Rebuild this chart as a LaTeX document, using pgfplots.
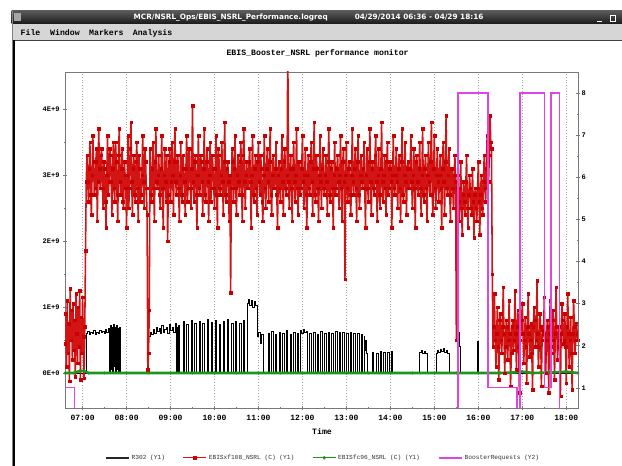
\documentclass[border=0pt]{standalone}
\usepackage{pgfplots}
\pgfplotsset{compat=1.18}
\usepackage{fontspec}
\setmainfont{Liberation Mono}
\newfontfamily\sansb{DejaVu Sans}
\definecolor{rline}{RGB}{210,20,20}
\definecolor{rmark}{RGB}{200,0,0}
\definecolor{gline}{RGB}{30,150,30}
\definecolor{mline}{RGB}{222,70,228}
\definecolor{axgray}{RGB}{120,120,120}
\definecolor{menugray}{RGB}{214,214,214}
\begin{document}
\begin{tikzpicture}
\useasboundingbox (0pt,0pt) rectangle (622pt,466pt);
\fill[white] (0pt,0pt) rectangle (622pt,466pt);
% window chrome
\shade[top color=black!65, bottom color=black!90] (11.5pt,442pt) rectangle (622pt,455pt);
\fill[black!35] (14pt,444.5pt) rectangle (21pt,452.5pt);
\node[anchor=west, text=white, font=\sansb\bfseries\fontsize{7.3}{8}\selectfont, inner sep=0pt] at (133.5pt,448.5pt) {MCR/NSRL\_Ops/EBIS\_NSRL\_Performance.logreq};
\node[anchor=west, text=white, font=\sansb\bfseries\fontsize{7.3}{8}\selectfont, inner sep=0pt] at (354.6pt,448.5pt) {04/29/2014 06:36 - 04/29 18:16};
\draw[white, line width=0.8pt] (597pt,445pt) -- (602pt,445pt);
\draw[white, line width=0.6pt] (610pt,445pt) rectangle (615.5pt,451pt);
\fill[menugray] (11.5pt,426pt) rectangle (622pt,442pt);
\fill[black!75] (11.5pt,424.5pt) rectangle (622pt,426pt);
\fill[black!50] (11.5pt,0pt) rectangle (13.2pt,455pt);
\fill[black] (13.2pt,0pt) rectangle (15.2pt,426pt);
\foreach \w/\x in {File/20.5, Window/50, Markers/89, Analysis/132.7}{
  \node[anchor=west, inner sep=0pt, font=\bfseries\fontsize{8.2}{9}\selectfont] at (\x pt,433pt) {\w};
}
\node[font=\bfseries\fontsize{8.2}{9}\selectfont, inner sep=0pt] at (317.6pt,413pt) {EBIS\_Booster\_NSRL performance monitor};
\node[font=\bfseries\fontsize{8.2}{9}\selectfont, inner sep=0pt] at (322pt,34.3pt) {Time};

\begin{axis}[
  at={(65pt,58pt)}, anchor=south west,
  scale only axis, width=513pt, height=336pt,
  xmin=36, xmax=736, ymin=-0.53, ymax=4.56,
  xtick={60,120,180,240,300,360,420,480,540,600,660,720},
  xticklabels={07:00,08:00,09:00,10:00,11:00,12:00,13:00,14:00,15:00,16:00,17:00,18:00},
  minor x tick num=1,
  ytick={0,1,2,3,4}, yticklabels={0E+0,1E+9,2E+9,3E+9,4E+9},
  minor y tick num=1,
  xtick pos=bottom, ytick pos=left,
  tick align=center,
  major tick length=4pt, minor tick length=2.5pt,
  xmajorgrids,
  grid style={dash pattern=on 0.8pt off 2pt, black!35, line width=0.6pt},
  axis line style={axgray, line width=0.7pt},
  tick style={axgray, line width=0.5pt},
  xticklabel style={font=\bfseries\fontsize{8}{9}\selectfont, yshift=-1.5pt},
  yticklabel style={font=\bfseries\fontsize{7}{8}\selectfont},
  legend columns=4,
  legend cell align=left,
  legend style={at={(0.503,-0.148)}, anchor=center, draw=none, fill=none,
    font=\fontsize{6.2}{7}\selectfont, text=black!80,
    /tikz/every even column/.append style={column sep=16pt}},
  legend image code/.code={\draw[mark repeat=2,mark phase=2,#1] plot coordinates {(0pt,0pt) (11.5pt,0pt) (23pt,0pt)};},
]
\addlegendimage{color=black!85, line width=1.7pt}
\addlegendentry{R302 (Y1)}
\addlegendimage{color=rline, line width=0.7pt, mark=square*, mark size=1.3pt, mark options={draw=rmark, fill=rmark}}
\addlegendentry{EBISxf108\_NSRL (C) (Y1)}
\addlegendimage{color=gline, line width=0.7pt, mark=*, mark size=1.4pt, mark options={draw=gline, fill=gline}}
\addlegendentry{EBISfc96\_NSRL (C) (Y1)}
\addlegendimage{color=mline, line width=1.8pt}
\addlegendentry{BoosterRequests (Y2)}
% R302
\addplot[const plot, black, line width=0.6pt, forget plot] coordinates {
(36,0)(65,0.6)(67,0.63)(69,0.58)(71,0.62)(73,0.6)(75,0.64)(77,0.59)(79,0.62)(81,0.6)(83,0.65)(85,0.61)(87,0.63)(89,0.6)(91,0.66)(93,0.62)(95,0.68)
(97,0.0)(98,0.72)(99,0.05)(100,0.7)(101,0.0)(102,0.74)(103,0.1)(104,0.7)(105,0.0)(106,0.73)(107,0.05)(108,0.68)(109,0.0)(110,0.7)(111,0)
(149,0.3)(150,0.55)(152,0.62)(154,0.58)(156,0.66)(158,0.6)(160,0.7)(162,0.63)(164,0.68)(166,0.6)(168,0.72)(170,0.62)(172,0.66)(174,0.7)(176,0.6)(178,0.74)(180,0.65)(182,0.7)(184,0.62)(186,0.76)(188,0.0)(189,0.7)(190,0)(191,0.72)(192,0)
(197,0.78)(199,0)(202,0.74)(204,0)(208,0.8)(210,0)(213,0.76)(215,0)(219,0.79)(221,0)(224,0.75)(226,0)(230,0.81)(232,0)(235,0.77)(237,0)(241,0.8)(243,0)(246,0.74)(248,0)(252,0.78)(254,0)(257,0.82)(259,0)(263,0.76)(265,0)(268,0.79)(270,0)(274,0.75)(276,0)(279,0.8)(281,0)
(285,1.05)(286,1.12)(288,1.02)(290,1.1)(292,1.0)(294,1.08)(296,1.03)(298,0.55)(300,0.62)(302,0.45)(304,0.58)(306,0.4)(307,0)
(313,0.6)(315,0)(318,0.63)(320,0)(323,0.58)(325,0)(328,0.62)(330,0)(333,0.6)(335,0)(338,0.64)(340,0)(343,0.59)(345,0)(348,0.62)(350,0)(353,0.6)(355,0)
(357,0.64)(359,0.6)(361,0.66)(363,0.61)(365,0.63)(367,0)(370,0.6)(372,0)(375,0.62)(377,0)(380,0.59)(382,0)(385,0.63)(387,0)(390,0.6)(392,0)(395,0.62)(397,0)
(400,0.6)(402,0)(405,0.63)(407,0)(410,0.61)(412,0)(415,0.62)(417,0)(420,0.6)(422,0)(425,0.61)(427,0)(430,0.6)(432,0)(435,0.6)(437,0)(440,0.58)(442,0)
(444,0.56)(445,0.35)(446,0.5)(447,0.3)(448,0)
(455,0.32)(457,0)(461,0.3)(463,0)(466,0.33)(468,0)(471,0.31)(473,0)(476,0.32)(478,0)(481,0.33)(483,0)
(519,0.26)(520,0.31)(522,0.34)(524,0.3)(526,0.33)(528,0.3)(530,0.27)(531,0)
(542,0.3)(544,0.35)(546,0.32)(548,0.36)(550,0.33)(552,0.37)(554,0.32)(556,0.35)(558,0.3)(560,0)
(573,0.62)(574,0.4)(575,0)(599,0.48)(600,0)(736,0)
};
% EBISxf108_NSRL
\addplot[color=rline, line width=1.55pt, mark=square*, mark size=1.3pt, mark options={draw=rmark, fill=rmark, line width=0.2pt}, forget plot] coordinates {
(36,0.45)(37,0.9)(38,0.1)(39,1.1)(40,0.3)(41,0.75)(42,-0.12)(43,1.28)(44,0.5)(45,0.95)(46,0.2)(47,1.05)(48,0.35)(49,0.8)(50,-0.05)(51,1.2)(52,0.6)(53,0.15)(54,1.0)(55,0.4)(56,1.25)(57,-0.1)(58,0.85)(59,0.3)(60,1.15)(61,0.55)(62,-0.08)(63,0.7)(64,1.85)(65,2.9)
(66,3.3)(67,2.9)(68,2.6)(69,3.1)(70,3.5)(71,2.7)(72,2.4)(73,3.0)(74,3.6)(75,3.2)(76,2.7)(77,2.8)(78,3.2)(79,3.4)(80,2.3)(81,2.9)(82,3.7)(83,3.1)(84,2.8)(85,3.3)
(86,3.4)(87,2.8)(88,2.5)(89,3.2)(90,3.1)(91,2.6)(92,2.2)(93,3.0)(94,3.6)(95,2.7)(96,2.9)(97,3.4)(98,3.3)(99,2.9)(100,2.4)(101,3.1)(102,3.5)(103,2.8)(104,2.6)(105,3.5)
(106,3.2)(107,2.7)(108,2.3)(109,3.3)(110,3.7)(111,2.9)(112,2.7)(113,3.1)(114,3.4)(115,2.6)(116,2.5)(117,3.2)(118,3.0)(119,2.8)(120,2.2)(121,3.0)(122,3.6)(123,2.5)(124,2.8)(125,3.4)
(126,3.8)(127,2.9)(128,2.4)(129,3.1)(130,3.3)(131,2.7)(132,2.6)(133,3.2)(134,3.5)(135,2.8)(136,2.3)(137,3.3)(138,3.1)(139,2.6)(140,2.7)(141,3.0)(142,3.6)(143,2.9)(144,2.5)(145,3.4)
(146,3.2)(147,2.8)(148,2.4)(149,0.05)(150,0.3)(151,0.95)(152,3.4)(153,2.7)(154,2.6)(155,3.1)(156,3.5)(157,2.8)(158,2.3)(159,3.2)(160,3.7)(161,2.9)(162,2.8)(163,3.0)(164,3.3)(165,2.7)
(166,2.5)(167,3.1)(168,3.6)(169,2.8)(170,2.2)(171,3.0)(172,3.4)(173,2.9)(174,2.6)(175,3.3)(176,2.0)(177,2.7)(178,3.2)(179,3.4)(180,2.6)(181,2.9)(182,3.5)(183,3.0)(184,2.4)(185,3.2)
(186,3.7)(187,2.9)(188,2.7)(189,3.2)(190,3.3)(191,2.8)(192,2.3)(193,3.0)(194,3.5)(195,2.7)(196,2.6)(197,3.3)(198,3.1)(199,2.9)(200,2.4)(201,3.1)(202,3.6)(203,2.6)(204,2.8)(205,3.4)
(206,3.4)(207,2.8)(208,2.5)(209,3.1)(210,4.05)(211,2.9)(212,2.6)(213,3.2)(214,3.3)(215,2.7)(216,2.2)(217,3.0)(218,3.6)(219,2.8)(220,2.7)(221,3.3)(222,3.2)(223,2.9)(224,2.4)(225,3.1)
(226,3.7)(227,2.7)(228,2.6)(229,3.2)(230,3.4)(231,2.9)(232,2.3)(233,3.0)(234,3.5)(235,2.6)(236,2.8)(237,3.3)(238,3.1)(239,2.8)(240,2.5)(241,3.1)(242,3.6)(243,2.7)(244,2.2)(245,3.4)
(246,3.3)(247,2.8)(248,2.7)(249,3.0)(250,3.5)(251,2.9)(252,2.4)(253,3.2)(254,3.8)(255,2.7)(256,2.6)(257,3.1)(258,3.2)(259,2.9)(260,2.3)(261,3.0)(262,1.22)(263,2.8)(264,3.4)(265,3.2)
(266,2.6)(267,3.1)(268,3.6)(269,2.8)(270,2.4)(271,3.0)(272,3.3)(273,2.9)(274,2.7)(275,3.2)(276,3.5)(277,2.7)(278,2.3)(279,3.3)(280,3.7)(281,2.9)(282,2.5)(283,3.0)(284,3.2)(285,2.8)
(286,2.8)(287,3.2)(288,3.4)(289,2.9)(290,2.2)(291,3.0)(292,3.6)(293,2.7)(294,2.6)(295,3.1)(296,3.3)(297,2.8)(298,2.4)(299,3.2)(300,3.5)(301,2.9)(302,2.7)(303,3.3)(304,3.1)(305,2.6)
(306,2.3)(307,3.0)(308,3.6)(309,2.8)(310,2.5)(311,3.1)(312,3.4)(313,2.9)(314,2.6)(315,3.2)(316,3.7)(317,2.7)(318,2.4)(319,3.0)(320,3.3)(321,2.8)(322,2.8)(323,3.1)(324,3.5)(325,2.7)
(326,2.2)(327,3.0)(328,3.2)(329,2.8)(330,2.6)(331,3.1)(332,3.6)(333,2.9)(334,2.4)(335,3.2)(336,3.4)(337,2.8)(338,2.7)(339,3.0)(340,5.0)(341,2.9)(342,2.5)(343,3.1)(344,3.3)(345,2.8)
(346,2.3)(347,3.1)(348,3.5)(349,2.9)(350,2.6)(351,3.0)(352,3.7)(353,2.8)(354,2.4)(355,3.2)(356,3.2)(357,2.7)(358,2.8)(359,3.1)(360,3.6)(361,2.9)(362,2.5)(363,3.0)(364,3.4)(365,2.7)
(366,2.2)(367,3.0)(368,3.3)(369,2.8)(370,2.7)(371,3.2)(372,3.5)(373,2.9)(374,2.4)(375,3.1)(376,3.8)(377,2.7)(378,2.6)(379,3.3)(380,3.1)(381,2.8)(382,2.3)(383,3.0)(384,3.6)(385,2.9)
(386,2.5)(387,3.1)(388,3.4)(389,2.8)(390,2.7)(391,3.0)(392,3.3)(393,2.9)(394,2.4)(395,3.2)(396,3.7)(397,2.7)(398,2.6)(399,3.1)(400,3.2)(401,2.8)(402,2.2)(403,3.0)(404,3.5)(405,2.7)
(406,2.8)(407,3.1)(408,3.3)(409,2.9)(410,2.5)(411,3.0)(412,3.6)(413,2.8)(414,2.3)(415,3.2)(416,3.4)(417,2.9)(418,1.42)(419,3.0)(420,3.5)(421,2.8)(422,2.6)(423,3.1)(424,3.2)(425,2.7)
(426,2.4)(427,3.0)(428,3.7)(429,2.9)(430,2.7)(431,3.1)(432,3.4)(433,2.8)(434,2.3)(435,3.2)(436,3.6)(437,2.7)(438,2.5)(439,3.0)(440,3.3)(441,2.9)(442,2.8)(443,3.1)(444,3.5)(445,2.8)
(446,2.2)(447,3.0)(448,3.4)(449,2.8)(450,2.6)(451,3.2)(452,3.7)(453,2.9)(454,2.4)(455,3.1)(456,3.2)(457,2.8)(458,2.7)(459,3.3)(460,3.6)(461,2.9)(462,2.3)(463,3.0)(464,3.4)(465,2.7)
(466,2.5)(467,3.1)(468,3.8)(469,2.9)(470,2.6)(471,3.0)(472,3.3)(473,2.8)(474,2.4)(475,3.2)(476,3.5)(477,2.7)(478,2.8)(479,3.1)(480,3.2)(481,2.9)(482,2.2)(483,3.0)(484,3.6)(485,2.8)
(486,2.7)(487,3.0)(488,3.4)(489,2.9)(490,2.5)(491,3.1)(492,3.3)(493,2.8)(494,2.3)(495,3.2)(496,3.7)(497,2.7)(498,2.6)(499,3.0)(500,3.5)(501,2.9)(502,2.4)(503,3.1)(504,3.2)(505,2.8)
(506,2.8)(507,3.1)(508,3.6)(509,2.9)(510,2.5)(511,3.0)(512,3.4)(513,2.8)(514,2.2)(515,3.2)(516,3.3)(517,2.9)(518,2.7)(519,3.1)(520,3.5)(521,2.8)(522,2.4)(523,3.0)(524,3.7)(525,2.7)
(526,2.6)(527,3.1)(528,3.3)(529,2.8)(530,2.3)(531,3.0)(532,3.5)(533,2.9)(534,2.7)(535,3.2)(536,3.8)(537,2.7)(538,2.4)(539,3.1)(540,3.6)(541,2.8)(542,2.5)(543,3.0)(544,3.4)(545,2.9)
(546,2.6)(547,3.0)(548,3.3)(549,2.8)(550,2.2)(551,3.1)(552,3.5)(553,2.9)(554,2.4)(555,3.2)(556,3.9)(557,2.8)(558,2.7)(559,3.0)(560,3.4)(561,2.7)(562,2.3)(563,3.1)(564,3.1)(565,2.8)
(566,2.5)(567,3.0)(568,3.3)(569,2.9)(570,0.5)(571,2.8)
(572,3.0)(573,2.6)(574,2.3)(575,2.8)(576,3.2)(577,2.5)(578,2.1)(579,2.7)(580,2.9)(581,2.6)(582,2.4)(583,2.9)(584,3.3)(585,2.5)(586,2.2)(587,2.7)(588,3.0)(589,2.8)(590,2.5)(591,2.4)
(592,3.1)(593,2.6)(594,2.05)(595,2.7)(596,2.8)(597,2.5)(598,2.3)(599,2.8)(600,3.2)(601,2.6)(602,2.1)(603,2.7)(604,3.0)(605,2.5)(606,2.4)(607,2.9)(608,3.3)(609,2.8)(610,2.6)(611,3.1)
(612,3.6)(613,3.2)(614,2.9)(615,3.3)(616,3.9)(617,3.5)(618,3.4)(619,1.5)
(620,0.4)(621,0.7)(622,1.2)(623,0.5)(624,0.1)(625,0.6)(626,1.0)(627,0.4)(628,-0.1)(629,0.8)
(630,0.9)(631,0.5)(632,0.3)(633,0.7)(634,1.3)(635,0.6)(636,0.0)(637,0.4)(638,0.8)(639,0.7)
(640,0.2)(641,0.5)(642,1.1)(643,0.6)(644,-0.2)(645,0.3)(646,0.7)(647,0.8)(648,0.35)(649,0.5)
(650,1.25)(651,0.6)(652,0.05)(653,0.7)(654,0.95)(655,0.4)(656,-0.3)(657,0.5)(658,0.6)(659,0.8)
(660,1.05)(661,0.6)(662,0.15)(663,0.5)(664,0.85)(665,0.4)(666,-0.15)(667,0.7)(668,1.2)(669,0.6)
(670,0.25)(671,0.5)(672,0.75)(673,0.3)(674,-0.25)(675,0.7)(676,1.0)(677,0.8)(678,0.4)(679,0.5)
(680,1.4)(681,0.6)(682,0.1)(683,0.4)(684,0.9)(685,0.7)(686,-0.2)(687,0.5)(688,0.65)(689,0.6)
(690,1.15)(691,0.3)(692,0.0)(693,0.5)(694,0.8)(695,0.7)(696,-0.3)(697,0.6)(698,1.1)(699,0.4)
(700,0.3)(701,0.8)(702,0.95)(703,0.5)(704,-0.1)(705,0.6)(706,1.3)(707,0.7)(708,0.2)(709,0.4)
(710,0.7)(711,0.5)(712,-0.35)(713,0.6)(714,1.05)(715,0.8)(716,0.45)(717,0.5)(718,0.9)(719,0.4)
(720,-0.15)(721,0.7)(722,1.2)(723,0.6)(724,0.1)(725,0.5)(726,0.85)(727,0.3)(728,-0.25)(729,0.6)
(730,1.1)(731,0.7)(732,0.3)(733,0.5)(734,0.75)(735,0.6)(736,0.5)
};
% EBISfc96_NSRL
\addplot[color=gline, line width=2.6pt, mark=*, mark size=1.3pt, mark options={draw=gline, fill=gline, line width=0.3pt}, forget plot] coordinates {
(36,0)(48,0)(56,0.03)(62,0.03)(68,0)(90,0)(120,0)(150,0)(180,0)(210,0)(240,0)(270,0)(300,0)(330,0)(360,0)(390,0)(420,0)(450,0)(480,0)(510,0)(540,0)(570,0)(600,0)(630,0)(650,0.01)(660,0.02)(675,0)(700,0.01)(720,0.02)(736,0)
};
\end{axis}

\begin{axis}[
  at={(65pt,58pt)}, anchor=south west,
  scale only axis, width=513pt, height=336pt,
  xmin=36, xmax=736, ymin=0.52, ymax=8.5,
  hide x axis,
  axis y line*=right,
  ytick={1,2,3,4,5,6,7,8}, yticklabels={1,2,3,4,5,6,7,8},
  minor y tick num=1,
  tick align=center,
  major tick length=4pt, minor tick length=2.5pt,
  axis line style={axgray, line width=0.7pt},
  tick style={axgray, line width=0.5pt},
  yticklabel style={font=\bfseries\fontsize{7}{8}\selectfont, xshift=-2pt},
]
\addplot[const plot, color=mline, line width=1.4pt] coordinates {
(36,1)(49,0)(572,8)(613,1)(653,0)(657,8)(690,1)(699,8)(711,0)(736,0)
};
\end{axis}
\end{tikzpicture}
\end{document}
